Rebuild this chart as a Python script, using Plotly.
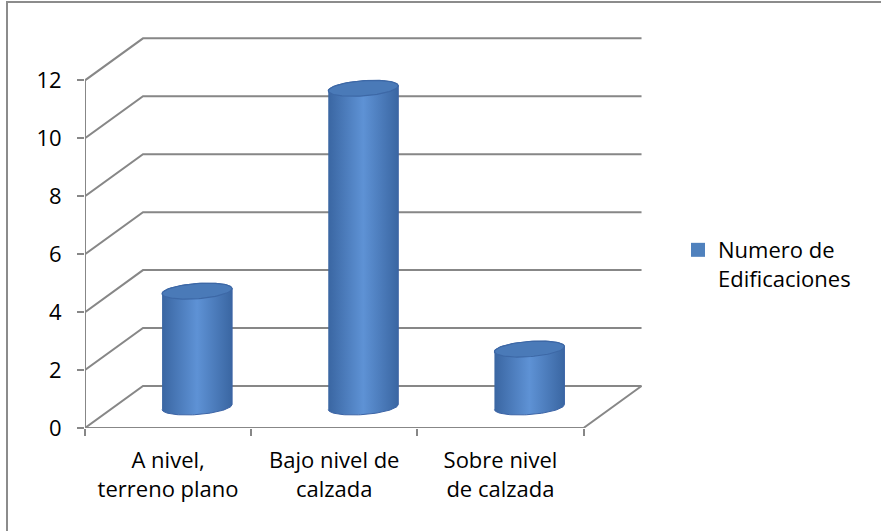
import numpy as np
import plotly.graph_objects as go

# --- data -------------------------------------------------------------
categories = ["A nivel,<br>terreno plano", "Bajo nivel de<br>calzada", "Sobre nivel<br>de calzada"]
values = [4, 11, 2]
y_ticks = [0, 2, 4, 6, 8, 10, 12]
series_name = "Numero de<br>Edificaciones"

# --- styling ----------------------------------------------------------
DX = 0.349          # oblique depth offset of the back wall (x units)
DY = 1.45           # oblique depth offset of the back wall (y units)
GRID = "#878787"
FONT = "'Open Sans', 'Noto Sans', sans-serif"
BLUE = "#4F81BD"
EDGE = "#3a66a2"
CENTER = "#5e92d5"

RX = 0.20           # cylinder radius along x (x units)
RZ = 0.19           # cylinder radius along depth (fraction of full depth)

fig = go.Figure()


def add_line(xs, ys):
    fig.add_trace(go.Scatter(x=xs, y=ys, mode="lines", hoverinfo="skip",
                             line=dict(color=GRID, width=2), showlegend=False))


# left wall diagonals + back-wall gridlines
for v in y_ticks:
    add_line([0, DX, len(categories) + DX], [v, v + DY, v + DY])

# floor front edge and right edge, front value axis
n = len(categories)
add_line([0, n, n + DX], [0, 0, DY])
add_line([0, 0], [0, max(y_ticks)])


def ellipse(cx, cy, t):
    return (cx + RX * np.cos(t) + RZ * np.sin(t) * DX,
            cy + RZ * np.sin(t) * DY)


t_r = np.arctan2(RZ * DX, RX)
t_l = t_r + np.pi

for i, v in enumerate(values):
    cx = i + 0.5 + DX / 2
    base = DY / 2
    top = v + DY / 2
    tb = np.linspace(t_l, t_r + 2 * np.pi, 60)
    tt = np.linspace(t_r, t_l, 60)
    bx, by = ellipse(cx, base, tb)
    tx, ty = ellipse(cx, top, tt)
    fig.add_trace(go.Scatter(
        x=np.concatenate([bx, tx]), y=np.concatenate([by, ty]),
        mode="lines", fill="toself", hoverinfo="skip", showlegend=False,
        line=dict(color="#3c64a6", width=1),
        fillgradient=dict(type="horizontal",
                          colorscale=[[0, EDGE], [0.5, CENTER], [1, EDGE]]),
    ))
    tc = np.linspace(0, 2 * np.pi, 90)
    cxs, cys = ellipse(cx, top, tc)
    fig.add_trace(go.Scatter(
        x=cxs, y=cys, mode="lines", fill="toself", hoverinfo="skip",
        showlegend=False, fillcolor="#4a7ab8",
        line=dict(color="#3d68a6", width=1.2),
    ))

# legend entry
fig.add_trace(go.Scatter(x=[None], y=[None], mode="markers", name=series_name,
                         marker=dict(symbol="square", size=14, color=BLUE)))

fig.update_layout(
    width=881, height=531,
    margin=dict(l=85, r=231, t=34, b=103, autoexpand=False),
    paper_bgcolor="white", plot_bgcolor="white",
    font=dict(family=FONT, size=22, color="#000000"),
    xaxis=dict(range=[0, 3.4], tickvals=[0.5, 1.5, 2.5], ticktext=categories,
               ticks="", showgrid=False, zeroline=False, showline=False,
               ticklabelstandoff=17,
               minor=dict(tickmode="array", tickvals=[0, 1, 2, 3], ticks="outside",
                          ticklen=7, tickcolor=GRID, tickwidth=2, showgrid=False)),
    yaxis=dict(range=[0, 13.6], tickvals=y_ticks, ticks="outside", ticklen=7,
               tickcolor=GRID, tickwidth=2, showgrid=False, zeroline=False,
               showline=False, ticklabelstandoff=11),
    legend=dict(x=1.0496, y=0.505, xanchor="left", yanchor="top",
                valign="top", bgcolor="rgba(0,0,0,0)",
                font=dict(family=FONT, size=22), itemsizing="trace"),
    shapes=[dict(type="rect", xref="paper", yref="paper",
                 x0=(7 - 85) / 565, x1=1.45, y0=-0.3, y1=1 + 32 / 394,
                 line=dict(color="#8c8c8c", width=2), layer="below")],
)

fig.write_html("out.html")
